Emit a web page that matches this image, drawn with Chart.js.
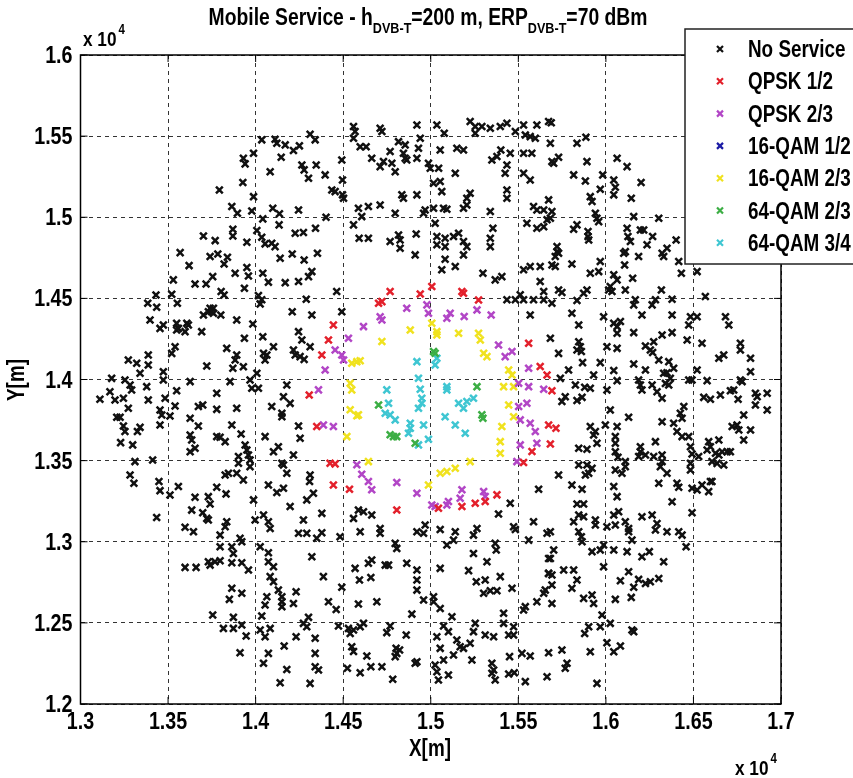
<!DOCTYPE html>
<html>
<head>
<meta charset="utf-8">
<script src="https://cdn.jsdelivr.net/npm/chart.js@4/dist/chart.umd.min.js"></script>
<style>
  html, body { margin: 0; padding: 0; background: #fff; }
  canvas { display: block; }
</style>
</head>
<body>
<canvas id="scatter" width="853" height="778"></canvas>
<script>
// Service category per test location, coordinates in metres [x, y]
const seriesLabels = ['No Service', 'QPSK 1/2', 'QPSK 2/3', '16-QAM 1/2', '16-QAM 2/3', '64-QAM 2/3', '64-QAM 3/4'];
const seriesColors = ['#111111', '#e3202b', '#b246c6', '#1c1ca6', '#f0e21e', '#3cae44', '#3fc6d2'];

const xTicks = [13000, 13500, 14000, 14500, 15000, 15500, 16000, 16500, 17000];
const yTicks = [12000, 12500, 13000, 13500, 14000, 14500, 15000, 15500, 16000];

const noService = [
  [14035,15477],[14111,15481],[14121,15456],[14169,15446],[14216,15411],[14250,15440],[14311,15511],[14340,15477],[13988,15394],[13930,15364],[13940,15329],[14146,15370],[14264,15322],[14277,15292],[14302,15240],[14346,15322],[14083,15281],[13927,15214],[13793,15168],[13988,15127],[13864,15066],[13896,15025],[13978,15039],[14098,15055],[14136,15021],[14245,15045],[14041,14990],[13870,14926],[13870,14885],[13702,14885],[13769,14856],[13950,14846],[14007,14918],[14035,14877],[14054,14836],[14092,14840],[14111,14819],[14134,14953],[14226,14901],[14273,14906],[14342,14932],[13569,14782],[13620,14702],[13740,14758],[13784,14774],[13839,14754],[13820,14712],[13883,14655],[13950,14690],[13959,14638],[14041,14655],[14073,14600],[14140,14747],[14209,14774],[14277,14737],[14353,14778],[14321,14665],[14302,14634],[14245,14604],[14169,14597],[13530,14614],[13654,14589],[13717,14589],[13755,14634],[13803,14542],[13820,14521],[13936,14563],[14016,14517],[14035,14491],[14289,14495],[13431,14521],[13521,14526],[13384,14470],[13435,14445],[13553,14470],[13740,14439],[13759,14439],[14026,14466],
  [14397,15261],[14435,15168],[14454,15158],[14492,15353],[14496,15230],[14496,15138],[14502,15117],[14559,15559],[14568,15528],[14559,15487],[14597,15435],[14631,15435],[14663,15364],[14711,15548],[14721,15528],[14768,15405],[14778,15333],[14711,15312],[14730,15343],[14797,15281],[14816,15466],[14854,15446],[14844,15394],[14854,15364],[14863,15353],[14921,15569],[14940,15487],[14930,15425],[14921,15364],[14835,15138],[14844,15117],[14921,15138],[14587,15055],[14644,15066],[14606,15004],[14711,15076],[14797,15025],[14959,15025],[14968,15045],[14987,15333],[14997,15302],[15035,15569],[15077,15518],[15054,15415],[15149,15425],[15187,15415],[15045,15302],[15140,15271],[15016,15210],[15054,15220],[15063,15158],[15225,15148],[15206,15117],[15016,15055],[15073,15055],[15092,15049],[15187,15055],[15206,15076],[15340,15035],[15025,14963],[14559,14953],[14402,15000],[14591,14871],[14644,14871],[14768,14850],[14816,14891],[14825,14860],[14825,14809],[14917,14897],[14911,14768],[15035,14881],[15035,14830],[15082,14871],[15082,14819],[15130,14881],[15159,14901],[15187,14850],[15206,14819],[15187,14768],[15082,14741],[15063,14676],[15140,14696],[15340,14871],[15340,14819],[15355,14932],[15298,14655],[15368,14614],[15406,14634],[15425,15271],[15435,15322],[15435,15168],[15435,15117],[15349,15353],[15378,15374],[15400,15415],[15454,15394],[15225,15590],[15254,15559],[15254,15518],[15292,15559],[15340,15548],[15397,15559],[15435,15579],[15483,15528],[15530,15569],[15606,15569],[15673,15590],[15540,15507],[15568,15497],[15597,15487],[15530,15394],[15577,15394],[15530,15271],[15568,15230],[15587,15066],[15606,15045],[15645,15045],[15673,15107],[15549,14963],[15606,14932],[15645,14942],[15664,14984],[15530,14676],[15568,14696],[15625,14696],[15625,14604],[15645,14542],[14463,14542],[15483,14491],[15511,14522],[15530,14491],[15587,14491],[15435,14491],[15645,14491],
  [15688,15583],[15683,15456],[15835,15456],[15886,15493],[15692,15343],[15702,15333],[15730,15370],[15816,15261],[15883,15224],[15892,15343],[15982,15261],[15968,15173],[15911,15127],[15921,15097],[16045,15230],[16054,15185],[16045,15138],[16064,15364],[16121,15312],[16145,15117],[16201,15214],[15940,15025],[15949,14994],[15959,14973],[16159,15004],[16302,14994],[15692,15035],[15683,14994],[15835,14953],[15816,14926],[15898,14912],[15898,14881],[15902,14860],[15721,14819],[15721,14788],[15730,14778],[15711,14758],[15692,14706],[15711,14696],[15806,14712],[15911,14655],[15959,14665],[15968,14727],[16121,14932],[16126,14881],[16140,14850],[16111,14788],[16102,14778],[16197,14922],[16216,14922],[16235,14830],[16267,14881],[16187,14758],[16107,14706],[16153,14624],[16321,14778],[16330,14758],[16349,14809],[16401,14860],[16416,14727],[16431,14655],[16521,14665],[16568,14511],[16045,14645],[16064,14614],[16025,14573],[16035,14542],[16111,14552],[15730,14552],[15749,14536],[15892,14552],[15873,14532],[15835,14487],[16016,14552],[15692,14470],[16168,14491],[16159,14460],[16283,14491],[16264,14460],[16317,14552],[16378,14495],
  [13397,14367],[13454,14315],[13473,14336],[13549,14346],[13559,14315],[13607,14346],[13616,14336],[13597,14295],[13549,14305],[13702,14398],[13730,14418],[13749,14418],[13759,14408],[13801,14398],[13692,14295],[13892,14367],[13984,14342],[13936,14254],[14041,14264],[14102,14202],[14209,14418],[14321,14398],[14245,14295],[14264,14244],[14311,14202],[14216,14182],[14226,14151],[14254,14141],[14277,14124],[14045,14161],[14064,14151],[13540,14202],[13521,14161],[13387,14151],[13387,14089],[13321,14100],[13273,14120],[13340,14038],[13473,14048],[13721,14083],[13835,14192],[13892,14151],[13883,14120],[13870,14069],[13930,14079],[13178,14007],[13254,13997],[13283,13966],[13292,13935],[13168,13925],[13197,13874],[13245,13884],[13111,13878],[13378,13956],[13387,13874],[13473,13997],[13483,13884],[13549,13931],[13540,13837],[13626,13987],[13854,13987],[13968,13997],[13978,13946],[14016,13946],[14007,14038],[13778,13915],[13673,13833],[13698,13843],[13778,13816],[13892,13823],[13273,13823],[13454,13812],[13464,13781],[13511,13775],[13454,13720],[13207,13767],[13226,13767],[13245,13714],[13254,13679],[13340,13705],[13325,13679],[13229,13611],[13298,13597],[13626,13761],[13673,13714],[13626,13658],[13635,13627],[13654,13576],[13626,13555],[13778,13648],[13797,13644],[13826,13617],[13864,13720],[13917,13664],[13940,13596],[13950,13566],[13959,13535],[13902,13525],[13902,13484],[13968,13504],[13968,13463],[13311,13494],[13412,13504],[13283,13412],[13305,13360],[13448,13371],[13454,13315],[13511,13288],[13559,13340],[13654,13274],[13730,13278],[13740,13233],[13778,13336],[13831,13295],[13826,13412],[13845,13422],[13892,13422],[13930,13381],[13988,13258],[14054,14120],[14054,13648],[14092,13833],[14102,13555],[14130,13586],[14150,13792],[14150,13771],[14159,13894],[14178,13966],[14197,13853],[14216,13535],[14245,13714],[14254,13638],[14150,13484],[14159,13473],[14178,13422],[14073,13350],[14121,13303],[14159,13330],[14311,13412],[14308,13371],[14330,13299],[14197,13217],[14292,13258],
  [14492,14418],[15568,14398],[15616,13324],[15454,13237],
  [15683,14254],[15730,14161],[15740,14007],[15749,13864],[15768,13894],[15787,14059],[15806,14408],[15845,14336],[15835,14182],[15854,14202],[15845,14233],[15860,14172],[15867,14104],[15930,14028],[15826,13966],[15879,13952],[15911,13946],[15835,13870],[15864,13890],[15968,14104],[15987,14387],[16006,14202],[16006,13935],[16025,13812],[15997,13720],[15911,13710],[15940,13679],[15930,13658],[15949,13607],[15845,13576],[15892,13570],[15845,13473],[15892,13473],[15921,13453],[15902,13422],[15883,13412],[15730,13412],[15806,13350],[15864,13323],[15835,13233],[15873,13233],[16206,14398],[16378,14398],[16045,14346],[16064,14326],[16064,14285],[16083,14357],[16159,14289],[16064,14192],[16045,14055],[16064,13993],[16159,14096],[16130,13767],[16064,13710],[16054,13648],[16054,13607],[16054,13555],[16069,13521],[16111,13494],[16111,13463],[16054,13442],[16092,13422],[16045,13340],[16064,13278],[16226,14207],[16254,14182],[16267,14166],[16273,14233],[16321,14274],[16378,14289],[16302,14120],[16226,14059],[16187,13997],[16197,13966],[16206,13935],[16330,14038],[16349,14042],[16368,14007],[16340,13976],[16359,13966],[16264,13966],[16292,13925],[16321,13884],[16359,14110],[16387,14069],[16321,13740],[16387,13730],[16406,13679],[16425,13792],[16435,13761],[16445,13833],[16283,13617],[16435,13648],[16473,13648],[16483,13586],[16197,13586],[16197,13555],[16226,13535],[16187,13525],[16273,13525],[16321,13535],[16321,13494],[16311,13463],[16349,13422],[16302,13360],[16406,13360],[16416,13336],[16378,13247],[16492,13541],[16483,13483],[16483,13442],[16530,13525],[16492,13330],[16521,13319],[16549,13350],[16587,13309],[16606,13371],[16483,14387],[16521,14387],[16473,14336],[16464,14244],[16549,14223],[16521,14059],[16473,13997],[16492,13997],[16578,13993],[16559,13890],[16597,13878],[16654,13905],[16711,13931],[16730,13935],[16755,13878],[16645,14131],[16673,14151],[16683,14387],[16702,14336],[16768,14223],[16768,14182],[16826,14131],[16826,14048],[16768,13997],[16778,13987],[16854,13915],[16864,13894],[16921,13915],[16921,13812],[16854,13843],[16787,13781],[16721,13710],[16749,13720],[16759,13689],[16826,13689],[16787,13627],[16587,13617],[16597,13586],[16645,13627],[16578,13566],[16626,13545],[16645,13535],[16664,13555],[16692,13555],[16711,13555],[16635,13483],[16673,13473],[16606,13494],[16597,13371],
  [13435,13150],[13635,13195],[13698,13179],[13721,13144],[13730,13134],[13597,13089],[13645,13062],[13835,13123],[13826,13093],[13797,13041],[13797,12969],[13864,12969],[13873,12928],[13911,13021],[13921,13000],[13997,13134],[14045,13165],[14073,13123],[14083,13082],[14026,12969],[14073,12932],[14073,12877],[14102,12846],[13597,12842],[13660,12842],[13730,12877],[13768,12877],[13797,12883],[13740,12856],[13864,12871],[13921,12871],[13959,12826],[14083,12785],[14102,12754],[14130,12702],[14150,12661],[14150,12630],[14150,12600],[14064,12661],[14054,12610],[13864,12713],[13850,12645],[13921,12682],[14231,12692],[14216,12620],[13755,12548],[14035,12542],[13873,12534],[13816,12466],[13873,12466],[13921,12487],[13946,12419],[14026,12456],[14054,12415],[14083,12466],[13911,12316],[14073,12312],[14045,12251],[14163,12357],[14231,12415],[14178,12213],[14140,12131],[14273,12497],[14292,12476],[14302,12534],[14311,12127],[14340,12405],[14340,12312],[14340,12230],[14359,12210],[14273,13134],[14245,13052],[14292,13052],[14349,13021],[14321,12908],
  [14378,13175],[14378,13056],[14559,13144],[14587,13195],[14616,13185],[14663,13165],[14597,13062],[14711,13082],[14711,13052],[14797,12990],[14806,12959],[14921,13062],[14959,13052],[14968,13103],[14482,13031],[14568,12836],[14593,12764],[14658,12780],[14644,12867],[14663,12887],[14740,12856],[14759,12856],[14863,12867],[14921,12826],[14921,12764],[14921,12702],[14387,12785],[14492,12719],[14416,12630],[14460,12583],[14587,12616],[14692,12630],[14959,12641],[14892,12554],[15054,13076],[15140,13062],[15092,12980],[15130,13010],[15244,13041],[15264,13082],[15054,12836],[15244,12928],[15321,12877],[15216,12822],[15368,12990],[15374,12949],[15397,12785],[15311,12764],[15260,12754],[15302,12682],[15340,12698],[15378,12698],[15464,12713],[15387,13171],[15473,13093],[15483,13076],[15587,13123],[15664,13052],[15559,13010],[15016,12661],[15016,12630],[15054,12589],[15121,12538],[14473,12481],[14530,12466],[14540,12435],[14559,12456],[14597,12476],[14616,12497],[14549,12353],[14559,12323],[14768,12481],[14749,12440],[14860,12425],[14635,12296],[14658,12230],[14802,12343],[14822,12333],[14797,12292],[14806,12312],[14911,12251],[14921,12260],[14721,12230],[14783,12152],[14597,12193],[14524,12220],[15035,12415],[15073,12481],[15101,12446],[15054,12343],[15073,12271],[15025,12240],[15035,12199],[15044,12148],[15101,12179],[15149,12394],[15168,12353],[15187,12343],[15225,12374],[15235,12271],[15130,12302],[15244,12446],[15254,12497],[15311,12425],[15359,12415],[15416,12559],[15416,12497],[15445,12425],[15473,12425],[15473,12476],[15349,12251],[15349,12189],[15359,12210],[15368,12148],[15450,12292],[15445,12185],[15477,12193],[15530,12579],[15540,12600],[15521,12312],[15568,12296],[15540,12138],[15606,12630],[15645,12682],[15654,12702],[15673,12897],[15673,12805],[15664,12168],
  [15845,13165],[15873,13154],[15816,13123],[15940,13134],[15940,13103],[16006,13093],[16045,13165],[16073,13185],[16054,13103],[16111,13123],[16130,13082],[16130,13062],[15845,13062],[15860,13031],[15864,13000],[15683,13062],[16206,13154],[16264,13165],[16292,13113],[16283,13072],[16349,13062],[16416,13062],[16435,13041],[16492,13179],[16149,13010],[15987,12980],[15968,12949],[15921,12939],[16045,12949],[16121,12939],[16206,12908],[16248,12939],[16330,12877],[16458,12969],[15702,12949],[15683,12897],[15673,12805],[15692,12795],[15759,12826],[15816,12826],[15835,12764],[15806,12713],[15987,12846],[15692,12733],[15692,12620],[16130,12815],[16083,12760],[16159,12719],[16187,12768],[16226,12743],[16254,12754],[16302,12774],[15873,12651],[15921,12672],[15930,12620],[16054,12645],[16145,12657],[15978,12548],[16025,12497],[15968,12476],[15902,12476],[15879,12435],[16149,12456],[16159,12446],[16006,12378],[16045,12322],[16083,12357],[15911,12322],[15749,12333],[15673,12316],[15778,12251],[15768,12220],[15949,12127]
];

const qpsk12 = [
  [14768,14542],[14940,14527],[15006,14573],[15178,14542],[15187,14532],[15273,14490],[14702,14470],[14721,14480],[14444,14336],[14416,14244],[14378,14151],[14306,13905],[14349,13710],[14425,13484],[14454,13480],[14444,13350],[14536,13324],[14806,13196],[15044,13207],[15178,13217],[15254,13237],[15311,13248],[15378,13289],[15530,13488],[15578,13556],[15559,14223],[15625,14080],[15664,14028],[15692,13931],[15673,13720],[15715,13699],[15683,13603]
];

const qpsk23 = [
  [14863,14439],[14978,14460],[14987,14408],[14721,14367],[14711,14387],[14616,14326],[14530,14254],[14454,14182],[14492,14151],[14502,14120],[14397,14059],[14359,13936],[14387,13720],[14444,13710],[14578,13474],[14606,13416],[14644,13371],[14663,13320],[14806,13365],[14921,13299],[15006,13227],[15025,13217],[15101,13248],[15092,13227],[15178,13320],[15168,13268],[15302,13310],[15311,13279],[15492,13494],[15092,14377],[15111,14408],[15191,14388],[15264,14429],[15345,14398],[15387,14213],[15464,14172],[15425,14141],[15559,14069],[15502,13977],[15559,13956],[15645,13940],[15502,13833],[15549,13854],[15511,13751],[15568,13730],[15597,13679],[15511,13597],[15606,13607]
];

const qam16_12 = [];

const qam16_23 = [
  [14883,14305],[14721,14234],[14549,14100],[14578,14110],[14597,14115],[14540,13977],[14549,13936],[14540,13813],[14578,13776],[14587,13782],[14521,13648],[14644,13494],[15006,14347],[15035,14295],[15035,14275],[15159,14285],[15273,14285],[15283,14244],[15302,14162],[15321,14141],[15445,14059],[15464,14028],[15416,13956],[15473,13956],[15445,13843],[15473,13771],[15406,13710],[15397,13617],[15397,13546],[15225,13494],[15054,13422],[15092,13433],[15140,13453],[14987,13350]
];

const qam64_23 = [
  [15016,14172],[15025,14162],[14702,13843],[14768,13659],[14787,13648],[14806,13648],[14911,13607],[15264,13956],[15292,13782],[15298,13761]
];

const qam64_34 = [
  [14921,14110],[15035,14131],[15025,14090],[14930,14008],[14940,13940],[14949,13884],[14949,13854],[14930,13823],[14749,13936],[14759,13854],[14740,13792],[14768,13782],[14797,13751],[14883,13730],[14883,13700],[14873,13669],[14959,13720],[14987,13632],[14930,13597],[15092,13956],[15092,13936],[15159,13854],[15206,13864],[15244,13884],[15187,13823],[15082,13771],[15140,13720],[15197,13669]
];

const allSeries = [noService, qpsk12, qpsk23, qam16_12, qam16_23, qam64_23, qam64_34];

const FONT = "'Liberation Sans', Arial, sans-serif";
const NARROW = 0.82; // condensed look of the original figure

function tickLabel(v) {
  return String(+(v / 10000).toFixed(2));
}

// condensed text: scale horizontally around the anchor
function narrowText(ctx, text, x, y, size, align, sx) {
  sx = sx || NARROW;
  ctx.save();
  ctx.font = 'bold ' + size + 'px ' + FONT;
  ctx.textAlign = align || 'left';
  ctx.translate(x, y);
  ctx.scale(sx, 1);
  ctx.fillText(text, 0, 0);
  const w = ctx.measureText(text).width * sx;
  ctx.restore();
  return w;
}

const datasets = allSeries.map((pts, i) => ({
  label: seriesLabels[i],
  data: pts.map(p => ({ x: p[0], y: p[1] })),
  pointStyle: 'crossRot',
  pointRadius: 4.8,
  pointBorderWidth: 2.5,
  borderColor: seriesColors[i],
  backgroundColor: seriesColors[i],
  order: i === 0 ? 1 : 0
}));

// title with subscripts, tick labels, legend box, frame, inward ticks, axis labels
const decor = {
  id: 'decor',
  afterDraw(chart) {
    const { ctx, chartArea: a, scales } = chart;
    ctx.save();

    // frame
    ctx.setLineDash([]);
    ctx.strokeStyle = '#000';
    ctx.lineWidth = 1.5;
    ctx.strokeRect(a.left, a.top, a.right - a.left, a.bottom - a.top);

    // inward tick marks
    ctx.lineWidth = 1;
    const tl = 7;
    xTicks.forEach(v => {
      const px = scales.x.getPixelForValue(v);
      ctx.beginPath();
      ctx.moveTo(px, a.bottom); ctx.lineTo(px, a.bottom - tl);
      ctx.moveTo(px, a.top); ctx.lineTo(px, a.top + tl);
      ctx.stroke();
    });
    yTicks.forEach(v => {
      const py = scales.y.getPixelForValue(v);
      ctx.beginPath();
      ctx.moveTo(a.left, py); ctx.lineTo(a.left + tl, py);
      ctx.moveTo(a.right, py); ctx.lineTo(a.right - tl, py);
      ctx.stroke();
    });

    ctx.fillStyle = '#000';
    ctx.textBaseline = 'alphabetic';

    // tick labels
    xTicks.forEach(v => {
      narrowText(ctx, tickLabel(v), scales.x.getPixelForValue(v), a.bottom + 25, 24, 'center');
    });
    yTicks.forEach(v => {
      narrowText(ctx, tickLabel(v), a.left - 8, scales.y.getPixelForValue(v) + 8, 24, 'right');
    });

    // title
    const parts = [
      ['Mobile Service - h', false], ['DVB-T', true], ['=200 m, ERP', false], ['DVB-T', true], ['=70 dBm', false]
    ];
    const sizeBig = 23, sizeSmall = 15, sxT = 0.84;
    let total = 0;
    parts.forEach(p => {
      ctx.font = 'bold ' + (p[1] ? sizeSmall : sizeBig) + 'px ' + FONT;
      total += ctx.measureText(p[0]).width * sxT;
    });
    let tx = 428 - total / 2;
    parts.forEach(p => {
      tx += narrowText(ctx, p[0], tx, p[1] ? 33 : 25, p[1] ? sizeSmall : sizeBig, 'left', sxT);
    });

    // exponent labels
    function expo(x, y) {
      const w = narrowText(ctx, 'x 10', x, y, 21, 'left');
      narrowText(ctx, '4', x + w + 2, y - 12, 14, 'left');
    }
    expo(83, 46);
    expo(735, 775);

    // axis titles
    narrowText(ctx, 'X[m]', 430, 756, 23, 'center');
    ctx.save();
    ctx.translate(24, 380);
    ctx.rotate(-Math.PI / 2);
    narrowText(ctx, 'Y[m]', 0, 0, 23, 'center');
    ctx.restore();

    // legend
    const lx = 685, ly = 29, lw = 180, lh = 235;
    ctx.fillStyle = '#fff';
    ctx.fillRect(lx, ly, lw, lh);
    ctx.strokeStyle = '#222';
    ctx.lineWidth = 1.5;
    ctx.strokeRect(lx, ly, lw, lh);
    seriesLabels.forEach((lab, i) => {
      const cy = 49 + i * 32.3;
      ctx.strokeStyle = seriesColors[i];
      ctx.lineWidth = 2.2;
      const r = 3;
      ctx.beginPath();
      ctx.moveTo(720 - r, cy - r); ctx.lineTo(720 + r, cy + r);
      ctx.moveTo(720 - r, cy + r); ctx.lineTo(720 + r, cy - r);
      ctx.stroke();
      ctx.fillStyle = '#000';
      narrowText(ctx, lab, 748, cy + 8, 23, 'left');
    });

    ctx.restore();
  }
};

const chart = new Chart(document.getElementById('scatter').getContext('2d'), {
  type: 'scatter',
  data: { datasets },
  options: {
    responsive: false,
    animation: false,
    events: [],
    layout: { padding: { top: 55, right: 72, left: 0, bottom: 0 } },
    plugins: {
      legend: { display: false },
      tooltip: { enabled: false },
      title: { display: false }
    },
    scales: {
      x: {
        type: 'linear',
        min: 13000,
        max: 17000,
        afterFit: s => { s.height = 74; },
        afterBuildTicks: s => { s.ticks = xTicks.map(v => ({ value: v })); },
        ticks: { display: false, autoSkip: false, callback: tickLabel },
        grid: { color: '#333', lineWidth: 1, drawTicks: false },
        border: { display: false, dash: [4, 4] }
      },
      y: {
        type: 'linear',
        min: 12000,
        max: 16000,
        afterFit: s => { s.width = 80.5; },
        afterBuildTicks: s => { s.ticks = yTicks.map(v => ({ value: v })); },
        ticks: { display: false, autoSkip: false, callback: tickLabel },
        grid: { color: '#333', lineWidth: 1, drawTicks: false },
        border: { display: false, dash: [4, 4] }
      }
    }
  },
  plugins: [decor]
});
</script>
</body>
</html>
